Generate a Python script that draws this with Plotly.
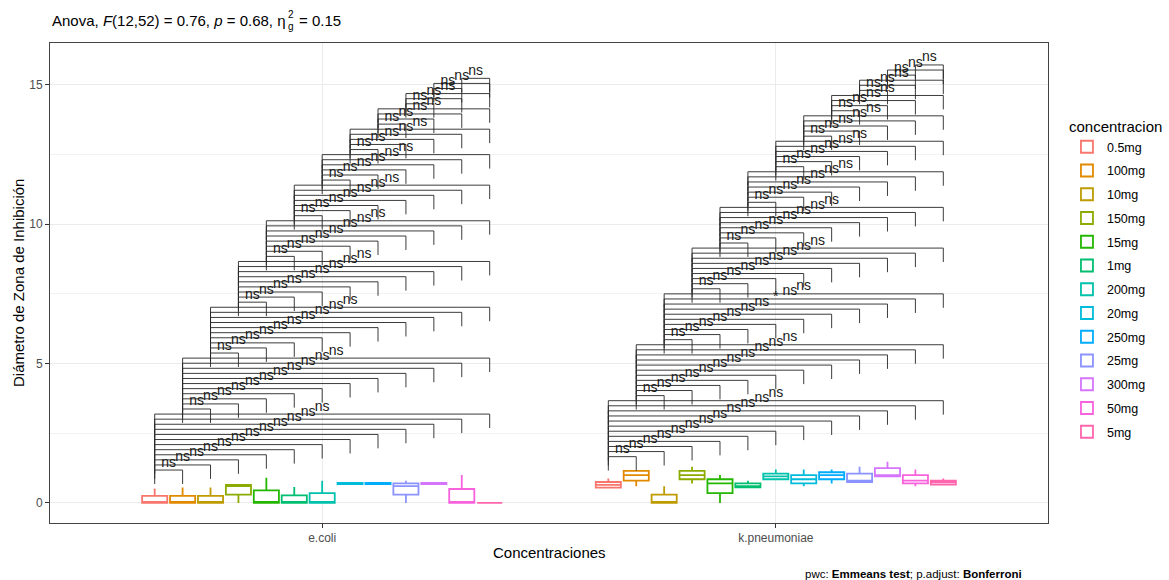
import plotly.graph_objects as go

# ---------------- data ----------------
groups = ["e.coli", "k.pneumoniae"]
levels = ["0.5mg", "100mg", "10mg", "150mg", "15mg", "1mg", "200mg", "20mg",
          "250mg", "25mg", "300mg", "50mg", "5mg"]
colors = ["#F8766D", "#E18A00", "#BE9C00", "#8CAB00", "#24B700", "#00BE70", "#00C1AB",
          "#00BBDA", "#00ACFC", "#8B93FF", "#D575FE", "#F962DD", "#FF65AC"]

ecoli_q1 = [0, 0, 0, 0.30, 0, 0, 0, 0.68, 0.68, 0.30, 0.68, 0, 0]
ecoli_med = [0, 0, 0, 0.60, 0, 0, 0, 0.70, 0.70, 0.60, 0.70, 0, 0]
ecoli_q3 = [0.25, 0.25, 0.25, 0.65, 0.45, 0.27, 0.35, 0.72, 0.72, 0.70, 0.72, 0.50, 0]
ecoli_lo = [0, 0, 0, 0, 0, 0, 0, 0.65, 0.65, 0, 0.65, 0, 0]
ecoli_hi = [0.52, 0.55, 0.55, 0.65, 0.90, 0.57, 0.80, 0.75, 0.75, 0.80, 0.75, 1.0, 0]

kpn_q1 = [0.55, 0.80, 0, 0.85, 0.35, 0.56, 0.85, 0.70, 0.85, 0.75, 0.95, 0.70, 0.66]
kpn_med = [0.65, 1.00, 0, 1.00, 0.70, 0.60, 0.95, 0.85, 1.00, 0.80, 1.00, 0.80, 0.74]
kpn_q3 = [0.75, 1.15, 0.30, 1.15, 0.85, 0.70, 1.05, 1.00, 1.10, 1.05, 1.25, 1.00, 0.80]
kpn_lo = [0.55, 0.60, 0, 0.70, 0, 0.56, 0.85, 0.60, 0.70, 0.75, 0.95, 0.60, 0.66]
kpn_hi = [0.88, 1.18, 0.60, 1.30, 1.00, 0.80, 1.20, 1.20, 1.20, 1.30, 1.48, 1.20, 0.88]

# pairwise comparison results (Emmeans, Bonferroni): everything "ns" except these
significant = {("k.pneumoniae", "10mg", "300mg"): "*"}

yticks = [0, 5, 10, 15]

# ---------------- layout constants ----------------
DODGE = 0.8
n = len(levels)
slot = DODGE / n
STEP = 0.1825
FIRST_GAP = 0.18
TIP = 0.5

stats = {
    "e.coli": (ecoli_q1, ecoli_med, ecoli_q3, ecoli_lo, ecoli_hi),
    "k.pneumoniae": (kpn_q1, kpn_med, kpn_q3, kpn_lo, kpn_hi),
}


def xpos(gi, li):
    return (gi + 1) + (li - (n - 1) / 2) * slot


fig = go.Figure()

for li, lev in enumerate(levels):
    fig.add_trace(go.Box(
        x=[xpos(gi, li) for gi in range(len(groups))],
        q1=[stats[g][0][li] for g in groups],
        median=[stats[g][1][li] for g in groups],
        q3=[stats[g][2][li] for g in groups],
        lowerfence=[stats[g][3][li] for g in groups],
        upperfence=[stats[g][4][li] for g in groups],
        name=lev, legendgroup=lev,
        width=slot * 0.9, whiskerwidth=0,
        fillcolor="white",
        line=dict(color=colors[li], width=1.8),
        boxpoints=False, hoverinfo="skip",
    ))

# brackets + labels
bx, by, tx, ty, tt = [], [], [], [], []
for gi, g in enumerate(groups):
    base = max(stats[g][4]) + FIRST_GAP
    k = 0
    for i in range(n):
        for j in range(i + 1, n):
            y = base + k * STEP
            x1, x2 = xpos(gi, i), xpos(gi, j)
            bx += [x1, x1, x2, x2, None]
            by += [y - TIP, y, y, y - TIP, None]
            tx.append((x1 + x2) / 2)
            ty.append(y)
            tt.append(significant.get((g, levels[i], levels[j]), "ns"))
            k += 1

fig.add_trace(go.Scatter(x=bx, y=by, mode="lines", line=dict(color="#262626", width=0.9),
                         showlegend=False, hoverinfo="skip"))
fig.add_trace(go.Scatter(x=tx, y=ty, mode="text", text=tt, textposition="top center",
                         textfont=dict(family="Liberation Sans, Arial", size=14, color="#1a1a1a"),
                         showlegend=False, hoverinfo="skip"))

W, H = 1169, 580
L, R, T, B = 50, 121, 43, 57
pw, ph = W - L - R, H - T - B


def px_x(p):
    return (p - L) / pw


def px_y(p):
    return (H - B - p) / ph


font = "Liberation Sans, Arial, sans-serif"
ann = [
    dict(text="Anova, <i>F</i>(12,52) = 0.76, <i>p</i> = 0.68, η", x=px_x(50), y=px_y(20),
         xanchor="left", yanchor="middle", font=dict(size=15, color="black")),
    dict(text="2", x=px_x(286), y=px_y(15), xanchor="left", yanchor="middle",
         font=dict(size=10, color="black")),
    dict(text="g", x=px_x(286), y=px_y(27), xanchor="left", yanchor="middle",
         font=dict(size=10, color="black")),
    dict(text="= 0.15", x=px_x(297), y=px_y(20), xanchor="left", yanchor="middle",
         font=dict(size=15, color="black")),
    dict(text="Concentraciones", x=0.5, y=px_y(552), xanchor="center", yanchor="middle",
         font=dict(size=15, color="black")),
    dict(text="Diámetro de Zona de Inhibición", x=px_x(18), y=px_y(283), textangle=-90,
         xanchor="center", yanchor="middle", font=dict(size=15, color="black")),
    dict(text="pwc: <b>Emmeans test</b>; p.adjust: <b>Bonferroni</b>", x=px_x(1024), y=px_y(574),
         xanchor="right", yanchor="middle", font=dict(size=11.5, color="black")),
]
for a in ann:
    a.update(xref="paper", yref="paper", showarrow=False)

fig.update_layout(
    width=W, height=H,
    margin=dict(l=L, r=R, t=T, b=B, autoexpand=False),
    paper_bgcolor="white", plot_bgcolor="white",
    font=dict(family=font),
    boxmode="overlay",
    showlegend=True,
    legend=dict(title=dict(text="concentracion", font=dict(size=15, color="black")),
                font=dict(size=12.5, color="black"),
                x=1.019, xanchor="left", y=0.855, yanchor="top",
                tracegroupgap=4.5, itemwidth=30),
    annotations=ann,
    hovermode=False,
)
fig.update_xaxes(range=[0.4, 2.6], tickvals=[1, 2], ticktext=groups,
                 showgrid=True, gridcolor="#EBEBEB", gridwidth=1,
                 showline=True, mirror=True, linecolor="#444444", linewidth=1,
                 ticks="outside", ticklen=4, tickcolor="#333333",
                 tickfont=dict(size=12, color="#4D4D4D"), zeroline=False)
fig.update_yaxes(range=[-0.72, 16.5], tickvals=yticks, ticktext=[str(v) for v in yticks],
                 showgrid=True, gridcolor="#EBEBEB", gridwidth=1,
                 minor=dict(dtick=2.5, tick0=0, showgrid=True, gridcolor="#F2F2F2", gridwidth=0.6),
                 showline=True, mirror=True, linecolor="#444444", linewidth=1,
                 ticks="outside", ticklen=4, tickcolor="#333333",
                 tickfont=dict(size=12, color="#4D4D4D"), zeroline=False)

fig.write_html("out.html")
